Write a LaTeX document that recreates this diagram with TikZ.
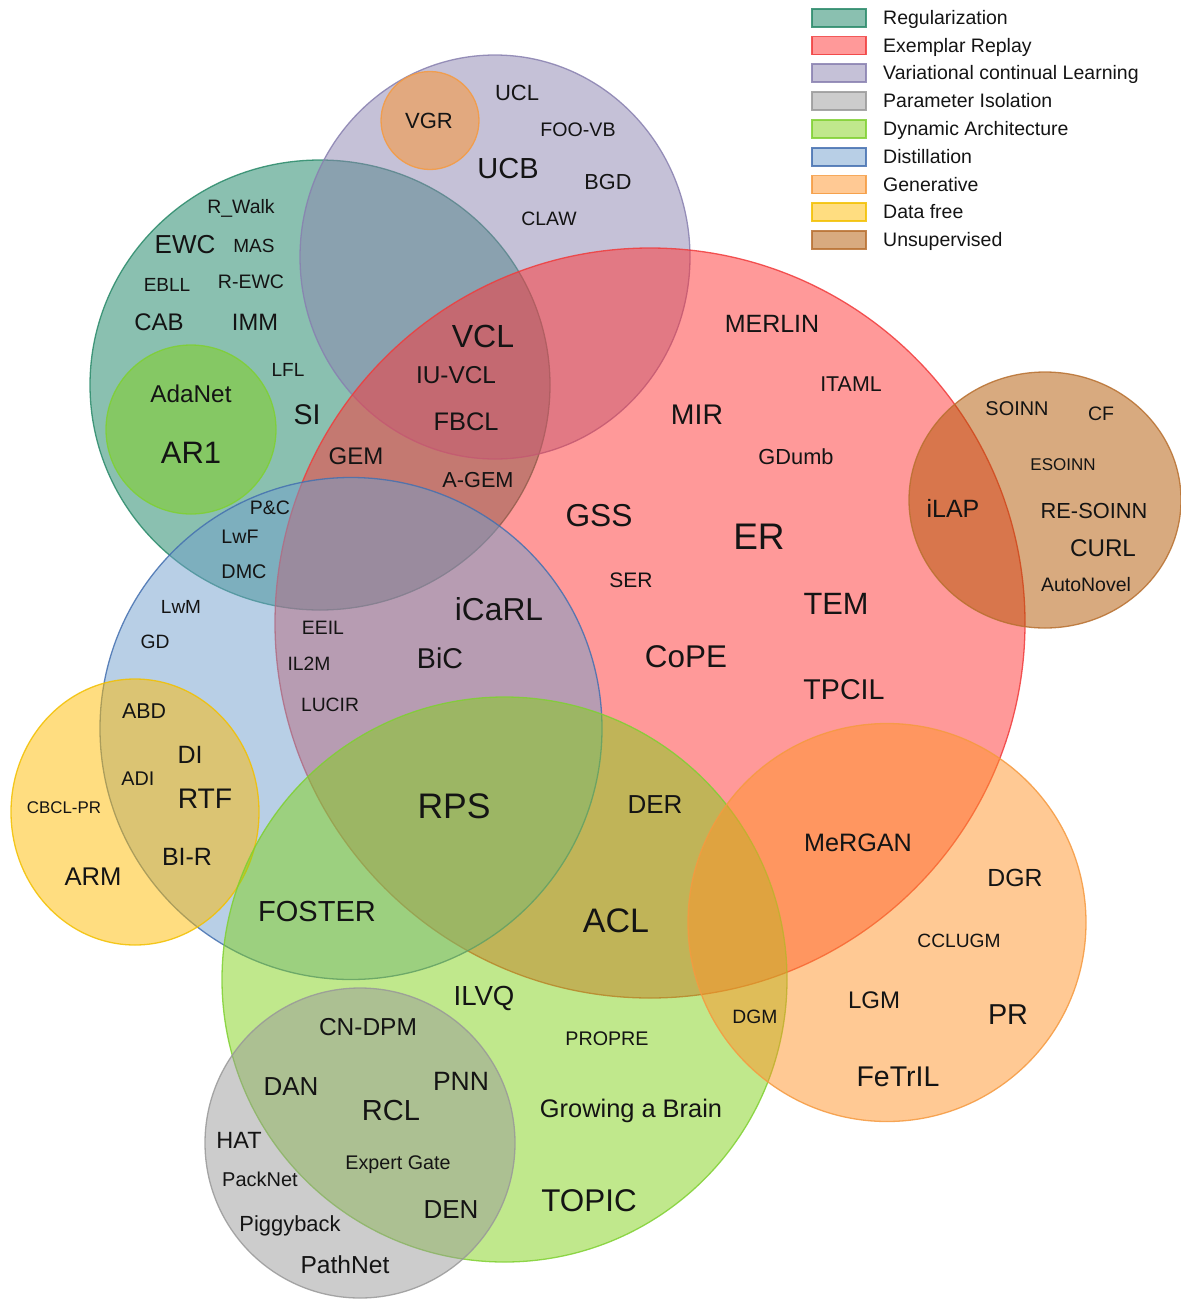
\documentclass[tikz,border=0pt]{standalone}
\usepackage{fontspec}
\setmainfont{Liberation Sans}
\definecolor{txt}{HTML}{141414}
\definecolor{regF}{RGB}{21,129,97}   \definecolor{regD}{HTML}{2A8A6A}
\definecolor{repF}{RGB}{255,51,51}   \definecolor{repD}{HTML}{F03C3C}
\definecolor{varF}{RGB}{139,131,175} \definecolor{varD}{HTML}{8880B0}
\definecolor{parF}{RGB}{153,153,153} \definecolor{parD}{HTML}{999999}
\definecolor{dynF}{RGB}{129,209,25}  \definecolor{dynD}{HTML}{7FD032}
\definecolor{disF}{RGB}{113,159,205} \definecolor{disD}{HTML}{4470B0}
\definecolor{genF}{RGB}{255,147,41}  \definecolor{genD}{HTML}{F59A40}
\definecolor{dfrF}{RGB}{255,187,1}   \definecolor{dfrD}{HTML}{F2C000}
\definecolor{unsF}{RGB}{177,85,0}    \definecolor{unsD}{HTML}{B87030}
\tikzset{
  venn/.style={fill opacity=0.5, draw opacity=0.85, line width=1.3pt},
  reg/.style={venn, fill=regF, draw=regD},
  rep/.style={venn, fill=repF, draw=repD},
  var/.style={venn, fill=varF, draw=varD},
  par/.style={venn, fill=parF, draw=parD},
  dyn/.style={venn, fill=dynF, draw=dynD},
  dis/.style={venn, fill=disF, draw=disD},
  gen/.style={venn, fill=genF, draw=genD},
  dfr/.style={venn, fill=dfrF, draw=dfrD},
  uns/.style={venn, fill=unsF, draw=unsD},
  lbl/.style={anchor=base, inner sep=0pt, text=txt},
  legtext/.style={anchor=base west, inner sep=0pt, text=txt, font=\lblsz{19.5}},
}
\newcommand\lblsz[1]{\fontsize{#1pt}{#1pt}\selectfont}
\newcommand\lab[5]{\node[lbl,font=\lblsz{#4}] (#1) at (#2,{#3+0.358*#4}) {#5};}
\newcommand\legrow[4]{%
  \filldraw[#2] (812,{#3-9}) rectangle (866,{#3+9});
  \node[legtext] (#1) at (883,{#3+0.358*19.5}) {#4};}
\begin{document}
\begin{tikzpicture}[x=1pt,y=-1pt]
\useasboundingbox (0,0) rectangle (1181,1299);
% circles
\filldraw[reg] (320,385) ellipse [x radius=230pt, y radius=225pt];
\filldraw[var] (495,257) ellipse [x radius=195pt, y radius=202pt];
\filldraw[gen] (430,120.5) circle [radius=49pt];
\filldraw[rep] (650,623) circle [radius=375pt];
\filldraw[uns] (1045,500) ellipse [x radius=136pt, y radius=128pt];
\filldraw[dyn] (191,429.5) ellipse [x radius=85pt, y radius=84.5pt];
\filldraw[dis] (351,728.5) circle [radius=251pt];
\filldraw[dfr] (135,812) ellipse [x radius=124pt, y radius=133pt];
\filldraw[dyn] (504.5,979.5) circle [radius=282.5pt];
\filldraw[gen] (887,922.5) circle [radius=199pt];
\filldraw[par] (360,1143) circle [radius=155pt];
% legend
\legrow{lreg}{reg}{18}{Regularization}
\legrow{lrep}{rep}{45.5}{Exemplar Replay}
\legrow{lvar}{var}{73}{Variational continual Learning}
\legrow{lpar}{par}{101}{Parameter Isolation}
\legrow{ldyn}{dyn}{129}{Dynamic Architecture}
\legrow{ldis}{dis}{157}{Distillation}
\legrow{lgen}{gen}{184.5}{Generative}
\legrow{ldfr}{dfr}{212}{Data free}
\legrow{luns}{uns}{240}{Unsupervised}
% regularization
\lab{rwalk}{241}{207}{19.4}{R\_Walk}
\lab{ewc}{185}{244}{26}{EWC}
\lab{mas}{254}{246}{19}{MAS}
\lab{ebll}{167}{285}{19}{EBLL}
\lab{rewc}{251}{282}{19.5}{R-EWC}
\lab{cab}{159}{322}{24}{CAB}
\lab{imm}{255}{322}{23.7}{IMM}
\lab{lfl}{288}{370}{19}{LFL}
\lab{si}{307}{414}{28.5}{SI}
\lab{adanet}{191}{394}{24.3}{AdaNet}
\lab{ar1}{191}{452}{31}{AR1}
% variational
\lab{vgr}{429}{121}{22}{VGR}
\lab{ucl}{517}{93}{22}{UCL}
\lab{foovb}{578}{129}{19.6}{FOO-VB}
\lab{ucb}{508}{168}{29}{UCB}
\lab{bgd}{608}{182}{21.7}{BGD}
\lab{claw}{549}{219}{19.4}{CLAW}
\lab{vcl}{483}{336}{32}{VCL}
\lab{iuvcl}{456}{375}{24.4}{IU-VCL}
\lab{fbcl}{466}{421}{25.4}{FBCL}
\lab{gem}{356}{456}{24}{GEM}
\lab{agem}{478}{480}{21.7}{A-GEM}
% replay
\lab{merlin}{772}{324}{25}{MERLIN}
\lab{itaml}{851}{384}{21.4}{ITAML}
\lab{mir}{697}{414}{28.4}{MIR}
\lab{gdumb}{796}{457}{21.8}{GDumb}
\lab{gss}{599}{515}{31.7}{GSS}
\lab{er}{759}{536}{37}{ER}
\lab{ser}{631}{580}{21}{SER}
\lab{tem}{836}{603}{30.8}{TEM}
\lab{cope}{686}{656}{31.4}{CoPE}
\lab{tpcil}{844}{689}{28.6}{TPCIL}
\lab{icarl}{499}{609}{31.7}{iCaRL}
\lab{bic}{440}{658}{28.6}{BiC}
% distillation
\lab{pc}{270}{508}{19.5}{P\&C}
\lab{lwf}{240}{536}{19.6}{LwF}
\lab{dmc}{244}{571}{19.8}{DMC}
\lab{lwm}{181}{607}{19}{LwM}
\lab{gd}{155}{642}{19.3}{GD}
\lab{eeil}{323}{628}{19.4}{EEIL}
\lab{iltwom}{309}{664}{19.3}{IL2M}
\lab{lucir}{330}{705}{19.3}{LUCIR}
% data free
\lab{abd}{144}{711}{21.4}{ABD}
\lab{di}{190}{755}{25}{DI}
\lab{adi}{138}{778}{19.8}{ADI}
\lab{rtf}{205}{798}{28.3}{RTF}
\lab{cbclpr}{64}{807}{16.9}{CBCL-PR}
\lab{bir}{187}{857}{25}{BI-R}
\lab{arm}{93}{876}{25.6}{ARM}
% dynamic / mixed
\lab{rps}{454}{806}{35.5}{RPS}
\lab{der}{655}{804}{26}{DER}
\lab{foster}{317}{911}{29}{FOSTER}
\lab{acl}{616}{920}{34}{ACL}
\lab{ilvq}{484}{996}{27.6}{ILVQ}
\lab{propre}{607}{1038}{19.7}{PROPRE}
\lab{growing}{631}{1108}{25.4}{Growing a Brain}
\lab{topic}{589}{1200}{31.4}{TOPIC}
% generative
\lab{mergan}{858}{842}{25.2}{MeRGAN}
\lab{dgr}{1015}{878}{24.8}{DGR}
\lab{cclugm}{959}{941}{19.2}{CCLUGM}
\lab{lgm}{874}{1000}{24}{LGM}
\lab{pr}{1008}{1014}{28.8}{PR}
\lab{fetril}{898}{1076}{28.5}{FeTrIL}
\lab{dgm}{755}{1017}{19.3}{DGM}
% parameter isolation
\lab{cndpm}{368}{1027}{24.5}{CN-DPM}
\lab{dan}{291}{1086}{26}{DAN}
\lab{pnn}{461}{1081}{26.5}{PNN}
\lab{rcl}{391}{1110}{29}{RCL}
\lab{hat}{239}{1140}{23.5}{HAT}
\lab{expert}{398}{1162}{19.7}{Expert Gate}
\lab{packnet}{260}{1179}{20}{PackNet}
\lab{den}{451}{1209}{26}{DEN}
\lab{piggy}{290}{1224}{21.9}{Piggyback}
\lab{pathnet}{345}{1265}{24.6}{PathNet}
% unsupervised
\lab{soinn}{1017}{408}{19.9}{SOINN}
\lab{cf}{1101}{414}{19.5}{CF}
\lab{esoinn}{1063}{464}{17}{ESOINN}
\lab{ilap}{953}{509}{25}{iLAP}
\lab{resoinn}{1094}{511}{21.8}{RE-SOINN}
\lab{curl}{1103}{548}{24.2}{CURL}
\lab{autonovel}{1086}{585}{19.5}{AutoNovel}
\end{tikzpicture}
\end{document}
